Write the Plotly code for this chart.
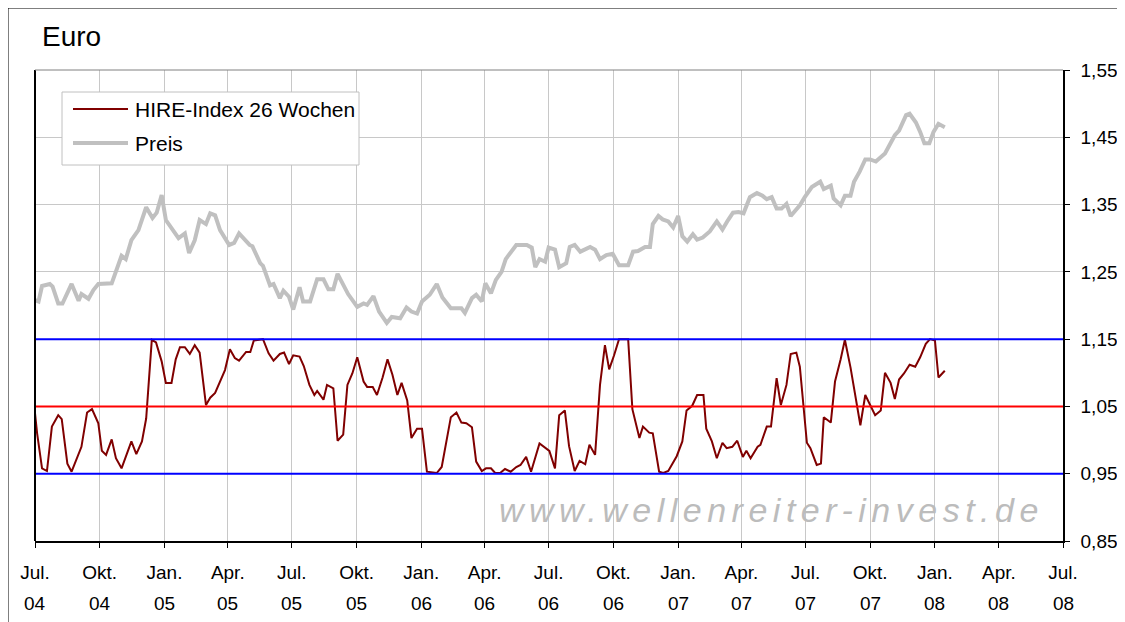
import pandas as pd
import plotly.graph_objects as go

# ---------------- data (days since 2004-07-01, value) ----------------
start_date = "2004-07-01"

preis_tage = [0, 5, 10, 21, 25, 33, 39, 52, 62, 66, 76, 83, 90, 109, 123, 129, 137, 147, 158, 167,
              173, 180, 186, 204, 213, 219, 227, 234, 243, 249, 256, 263, 276, 283, 290, 305, 309, 320, 324, 334,
              339, 348, 353, 361, 367, 376, 381, 391, 401, 410, 417, 424, 430, 438, 445, 458, 467, 472, 481, 489,
              500, 507, 519, 528, 535, 543, 550, 561, 571, 579, 591, 606, 611, 621, 627, 635, 640, 648, 655, 663,
              669, 684, 699, 706, 711, 717, 725, 730, 739, 745, 755, 760, 767, 775, 789, 796, 803, 812, 821, 830,
              843, 850, 857, 867, 874, 878, 886, 892, 900, 907, 914, 920, 927, 935, 941, 949, 959, 969, 977, 985,
              992, 1000, 1007, 1016, 1026, 1034, 1040, 1047, 1054, 1061, 1068, 1074, 1083, 1087, 1094, 1104, 1116, 1121, 1131, 1135,
              1145, 1151, 1159, 1164, 1172, 1180, 1187, 1195, 1208, 1215, 1222, 1228, 1238, 1243, 1252, 1258, 1264, 1271, 1277, 1284,
              1293]
preis_wert = [1.208, 1.206, 1.229, 1.232, 1.228, 1.203, 1.203, 1.232, 1.207, 1.217, 1.210, 1.223, 1.232, 1.233, 1.274, 1.269, 1.297, 1.312, 1.346, 1.330,
              1.338, 1.364, 1.327, 1.300, 1.307, 1.278, 1.297, 1.327, 1.321, 1.337, 1.334, 1.312, 1.290, 1.293, 1.307, 1.290, 1.288, 1.263, 1.259, 1.230,
              1.232, 1.211, 1.222, 1.213, 1.194, 1.227, 1.206, 1.206, 1.239, 1.239, 1.224, 1.224, 1.247, 1.232, 1.217, 1.198, 1.203, 1.201, 1.214, 1.191,
              1.174, 1.183, 1.181, 1.197, 1.191, 1.188, 1.206, 1.216, 1.232, 1.212, 1.196, 1.196, 1.189, 1.211, 1.216, 1.206, 1.233, 1.218, 1.238, 1.250,
              1.269, 1.290, 1.290, 1.286, 1.257, 1.269, 1.265, 1.286, 1.283, 1.257, 1.263, 1.287, 1.290, 1.280, 1.287, 1.283, 1.269, 1.275, 1.277, 1.260,
              1.260, 1.280, 1.281, 1.287, 1.287, 1.321, 1.333, 1.328, 1.325, 1.316, 1.333, 1.303, 1.295, 1.306, 1.298, 1.301, 1.310, 1.325, 1.313, 1.327,
              1.338, 1.339, 1.337, 1.361, 1.367, 1.363, 1.358, 1.361, 1.344, 1.344, 1.351, 1.333, 1.344, 1.349, 1.361, 1.376, 1.384, 1.373, 1.378, 1.359,
              1.349, 1.363, 1.363, 1.384, 1.399, 1.417, 1.417, 1.414, 1.426, 1.439, 1.453, 1.460, 1.483, 1.485, 1.472, 1.458, 1.441, 1.441, 1.458, 1.470,
              1.465]

hire_tage = [0, 3, 10, 17, 24, 33, 38, 46, 52, 66, 74, 81, 90, 95, 101, 109, 115, 123, 137, 144,
             152, 158, 166, 172, 180, 186, 194, 200, 206, 213, 220, 227, 234, 243, 249, 256, 270, 277, 284, 290,
             300, 306, 311, 324, 332, 339, 348, 354, 361, 367, 376, 382, 390, 397, 401, 410, 415, 424, 430, 438,
             444, 451, 458, 467, 472, 480, 486, 494, 501, 508, 515, 521, 529, 535, 543, 550, 557, 571, 578, 591,
             599, 606, 613, 621, 627, 635, 641, 648, 654, 661, 668, 676, 684, 690, 698, 705, 717, 725, 731, 739,
             745, 753, 759, 767, 774, 782, 788, 796, 803, 810, 816, 823, 830, 843, 849, 859, 864, 873, 878, 887,
             893, 900, 912, 920, 926, 934, 941, 950, 954, 962, 969, 977, 983, 991, 998, 1006, 1011, 1017, 1027, 1031,
             1040, 1046, 1054, 1060, 1068, 1074, 1082, 1087, 1097, 1102, 1111, 1117, 1121, 1131, 1137, 1145, 1151, 1159, 1167, 1173,
             1180, 1187, 1194, 1202, 1208, 1216, 1222, 1228, 1235, 1243, 1251, 1258, 1266, 1272, 1279, 1284, 1293]
hire_wert = [1.040, 1.010, 0.958, 0.954, 1.020, 1.037, 1.031, 0.965, 0.953, 0.990, 1.041, 1.046, 1.025, 0.984, 0.978, 1.001, 0.973, 0.958, 0.998, 0.979,
             0.998, 1.032, 1.149, 1.145, 1.117, 1.085, 1.085, 1.120, 1.138, 1.138, 1.128, 1.141, 1.130, 1.052, 1.063, 1.070, 1.104, 1.135, 1.122, 1.118,
             1.131, 1.131, 1.148, 1.150, 1.129, 1.118, 1.128, 1.130, 1.113, 1.126, 1.124, 1.110, 1.082, 1.067, 1.073, 1.060, 1.082, 1.077, 0.999, 1.008,
             1.082, 1.099, 1.123, 1.087, 1.079, 1.079, 1.067, 1.093, 1.120, 1.097, 1.067, 1.085, 1.059, 1.003, 1.017, 1.017, 0.953, 0.951, 0.960, 1.034,
             1.041, 1.026, 1.025, 1.019, 0.968, 0.954, 0.958, 0.958, 0.951, 0.951, 0.957, 0.953, 0.960, 0.963, 0.975, 0.953, 0.995, 0.988, 0.984, 0.958,
             1.037, 1.044, 0.991, 0.954, 0.969, 0.964, 0.993, 0.978, 1.082, 1.141, 1.105, 1.126, 1.150, 1.150, 1.046, 1.003, 1.020, 1.011, 1.010, 0.953,
             0.951, 0.954, 0.976, 0.998, 1.044, 1.051, 1.067, 1.067, 1.017, 0.998, 0.973, 0.996, 0.988, 0.990, 0.999, 0.975, 0.984, 0.973, 0.990, 0.993,
             1.020, 1.020, 1.092, 1.052, 1.082, 1.128, 1.130, 1.109, 0.996, 0.988, 0.963, 0.965, 1.034, 1.026, 1.087, 1.120, 1.149, 1.108, 1.061, 1.022,
             1.067, 1.052, 1.037, 1.044, 1.100, 1.085, 1.061, 1.090, 1.099, 1.112, 1.109, 1.123, 1.143, 1.150, 1.148, 1.093, 1.103]

# reference levels
level_oben = 1.15
level_mitte = 1.05
level_unten = 0.95

# x-axis ticks (quarters)
tick_dates = ["2004-07-01", "2004-10-01", "2005-01-01", "2005-04-01", "2005-07-01", "2005-10-01",
              "2006-01-01", "2006-04-01", "2006-07-01", "2006-10-01", "2007-01-01", "2007-04-01",
              "2007-07-01", "2007-10-01", "2008-01-01", "2008-04-01", "2008-07-01"]
tick_monate = ["Jul.", "Okt.", "Jan.", "Apr.", "Jul.", "Okt.", "Jan.", "Apr.", "Jul.", "Okt.",
               "Jan.", "Apr.", "Jul.", "Okt.", "Jan.", "Apr.", "Jul."]
tick_jahre = ["04", "04", "05", "05", "05", "05", "06", "06", "06", "06", "07", "07", "07", "07",
              "08", "08", "08"]

# ---------------- figure ----------------
t0 = pd.Timestamp(start_date)
preis_x = [t0 + pd.Timedelta(days=d) for d in preis_tage]
hire_x = [t0 + pd.Timedelta(days=d) for d in hire_tage]

W, H = 1125, 622
OFF = 8  # page body margin offset
L, R, T, B = 35 - OFF, 1063 - OFF, 70 - OFF, 541 - OFF
FONT = "Liberation Sans, Arial, sans-serif"


def px(x):  # screen pixel -> paper
    return (x - OFF - L) / (R - L)


def py(y):
    return (B - (y - OFF)) / (B - T)


fig = go.Figure()
fig.add_trace(go.Scatter(x=preis_x, y=preis_wert, mode="lines", name="Preis",
                         line=dict(color="#c0c0c0", width=4), showlegend=False))
fig.add_trace(go.Scatter(x=hire_x, y=hire_wert, mode="lines", name="HIRE-Index 26 Wochen",
                         line=dict(color="#800000", width=2), showlegend=False))

shapes = []
for lev, col in [(level_oben, "#0000ff"), (level_mitte, "#ff0000"), (level_unten, "#0000ff")]:
    shapes.append(dict(type="line", xref="paper", yref="y", x0=0, x1=1, y0=lev, y1=lev,
                       line=dict(color=col, width=2), layer="above"))
# plot frame: left black, top dark grey
shapes.append(dict(type="line", xref="paper", yref="paper", x0=0, x1=0, y0=0, y1=1,
                   line=dict(color="black", width=2)))
shapes.append(dict(type="line", xref="paper", yref="paper", x0=0, x1=1, y0=1, y1=1,
                   line=dict(color="#808080", width=1)))
# outer chart border
shapes.append(dict(type="line", xref="paper", yref="paper", x0=px(8), x1=px(8), y0=py(8), y1=py(640),
                   line=dict(color="black", width=1)))
shapes.append(dict(type="line", xref="paper", yref="paper", x0=px(8), x1=px(1140), y0=py(8), y1=py(8),
                   line=dict(color="black", width=1)))
# legend box
shapes.append(dict(type="rect", xref="paper", yref="paper", x0=px(62), x1=px(359), y0=py(165), y1=py(92),
                   line=dict(color="#c0c0c0", width=1), fillcolor="white", layer="above"))
shapes.append(dict(type="line", xref="paper", yref="paper", x0=px(73), x1=px(128), y0=py(109), y1=py(109),
                   line=dict(color="#800000", width=2), layer="above"))
shapes.append(dict(type="line", xref="paper", yref="paper", x0=px(73), x1=px(128), y0=py(143), y1=py(143),
                   line=dict(color="#c0c0c0", width=4), layer="above"))

annotations = [
    dict(text="HIRE-Index 26 Wochen", x=px(133), y=py(109), xref="paper", yref="paper",
         xanchor="left", yanchor="middle", showarrow=False, font=dict(family=FONT, size=21, color="black")),
    dict(text="Preis", x=px(133), y=py(143), xref="paper", yref="paper",
         xanchor="left", yanchor="middle", showarrow=False, font=dict(family=FONT, size=21, color="black")),
    dict(text="Euro", x=px(40), y=py(36), xref="paper", yref="paper",
         xanchor="left", yanchor="middle", showarrow=False, font=dict(family=FONT, size=28, color="black")),
    dict(text='<span style="letter-spacing:5.5px">www.wellenreiter-invest.de</span>',
         x=px(771), y=py(510), xref="paper", yref="paper",
         xanchor="center", yanchor="middle", showarrow=False,
         font=dict(family=FONT, size=34, color="#bcbcbc", style="italic")),
]
for d, j in zip(tick_dates, tick_jahre):
    annotations.append(dict(text=j, x=d, y=py(603), xref="x", yref="paper", xanchor="center",
                            yanchor="middle", showarrow=False,
                            font=dict(family=FONT, size=19, color="black")))

fig.update_layout(
    width=W, height=H,
    margin=dict(l=L, r=W - R, t=T, b=H - B, pad=0, autoexpand=False),
    paper_bgcolor="white", plot_bgcolor="white",
    separators=",.",
    showlegend=False,
    shapes=shapes,
    annotations=annotations,
    font=dict(family=FONT, size=19, color="black"),
)
fig.update_xaxes(
    type="date", range=["2004-07-01", "2008-07-01"],
    tickmode="array", tickvals=tick_dates, ticktext=tick_monate,
    showgrid=True, gridcolor="#c8c8c8", gridwidth=1,
    showline=True, linecolor="black", linewidth=1.5,
    ticks="outside", ticklen=5, tickcolor="black",
    tickfont=dict(family=FONT, size=19, color="black"),
    ticklabelstandoff=8, automargin=False,
    zeroline=False,
)
fig.update_yaxes(
    side="right", range=[0.85, 1.55], tick0=0.85, dtick=0.1, tickformat=".2f",
    showgrid=True, gridcolor="#c8c8c8", gridwidth=1,
    showline=True, linecolor="black", linewidth=1.5,
    ticks="outside", ticklen=5, tickcolor="black",
    tickfont=dict(family=FONT, size=19, color="black"),
    ticklabelstandoff=7, automargin=False,
    zeroline=False,
)

fig.write_html("out.html")
